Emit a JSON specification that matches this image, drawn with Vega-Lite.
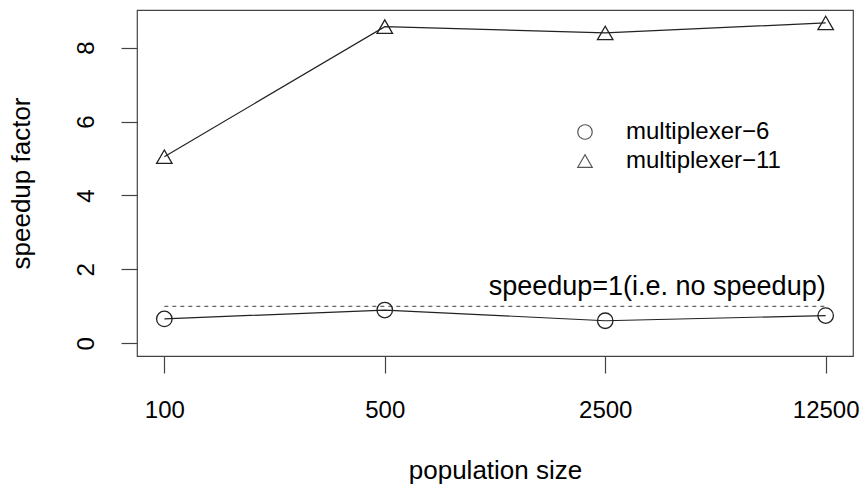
{
  "$schema": "https://vega.github.io/schema/vega-lite/v6.json",
  "width": 716,
  "height": 346,
  "autosize": {"type": "none"},
  "padding": {"left": 137, "top": 10, "right": 12, "bottom": 133},
  "background": "white",
  "config": {
    "view": {"stroke": "#444", "strokeWidth": 1.2},
    "font": "Liberation Sans",
    "axis": {
      "grid": false,
      "domain": false,
      "tickColor": "#444",
      "tickWidth": 1.2,
      "labelFont": "Liberation Sans",
      "labelColor": "black",
      "titleFont": "Liberation Sans",
      "titleColor": "black",
      "titleFontWeight": "normal"
    }
  },
  "datasets": {
    "series": [
      {"population": "100", "speedup": 0.66, "problem": "multiplexer−6"},
      {"population": "500", "speedup": 0.90, "problem": "multiplexer−6"},
      {"population": "2500", "speedup": 0.61, "problem": "multiplexer−6"},
      {"population": "12500", "speedup": 0.75, "problem": "multiplexer−6"},
      {"population": "100", "speedup": 5.05, "problem": "multiplexer−11"},
      {"population": "500", "speedup": 8.57, "problem": "multiplexer−11"},
      {"population": "2500", "speedup": 8.40, "problem": "multiplexer−11"},
      {"population": "12500", "speedup": 8.67, "problem": "multiplexer−11"}
    ],
    "baseline": [
      {"from": "100", "to": "12500", "speedup": 1, "label": "speedup=1(i.e. no speedup)"}
    ]
  },
  "layer": [
    {
      "data": {"name": "baseline"},
      "mark": {"type": "rule", "stroke": "#666", "strokeDash": [4, 4], "strokeWidth": 1.3},
      "encoding": {
        "x": {"field": "from", "type": "ordinal", "title": "population size",
              "scale": {"type": "point", "padding": 0.124, "domain": ["100", "500", "2500", "12500"]}},
        "x2": {"field": "to"},
        "y": {"field": "speedup", "type": "quantitative", "title": "speedup factor",
              "scale": {"domain": [-0.344, 9.02], "nice": false, "zero": false}}
      }
    },
    {
      "data": {"name": "baseline"},
      "mark": {"type": "text", "align": "right", "baseline": "alphabetic", "dy": -11, "fontSize": 27, "font": "Liberation Sans", "color": "black"},
      "encoding": {
        "x": {"field": "to", "type": "ordinal", "title": "population size"},
        "y": {"field": "speedup", "type": "quantitative", "title": "speedup factor"},
        "text": {"field": "label"}
      }
    },
    {
      "data": {"name": "series"},
      "mark": {"type": "line", "stroke": "#222", "strokeWidth": 1.2},
      "encoding": {
        "x": {"field": "population", "type": "ordinal", "title": "population size"},
        "y": {"field": "speedup", "type": "quantitative", "title": "speedup factor"},
        "detail": {"field": "problem"}
      }
    },
    {
      "data": {"name": "series"},
      "mark": {"type": "point", "filled": false, "stroke": "#222", "strokeWidth": 1.3, "opacity": 1, "size": 240},
      "encoding": {
        "x": {"field": "population", "type": "ordinal", "title": "population size",
              "axis": {"labelAngle": 0, "labelAlign": "center", "labelFontSize": 24, "tickSize": 17, "labelPadding": 44, "labelBaseline": "alphabetic",
                       "titleFontSize": 26, "titleY": 122, "titleBaseline": "alphabetic"}},
        "y": {"field": "speedup", "type": "quantitative", "title": "speedup factor",
              "axis": {"values": [0, 2, 4, 6, 8], "labelAngle": 270, "labelAlign": "center", "labelBaseline": "alphabetic",
                       "labelPadding": 28, "tickSize": 16, "labelFontSize": 24, "titleFontSize": 26,
                       "titleX": -108, "titleY": 173, "titleAngle": 270, "titleAlign": "center", "titleBaseline": "alphabetic"}},
        "shape": {"field": "problem", "type": "nominal",
                  "scale": {"domain": ["multiplexer−6", "multiplexer−11"], "range": ["circle", "triangle-up"]},
                  "legend": {"title": null, "orient": "none", "legendX": 436, "legendY": 110, "padding": 0,
                             "labelFontSize": 24, "labelFont": "Liberation Sans", "labelColor": "black",
                             "symbolSize": 210, "symbolStrokeColor": "#555", "symbolStrokeWidth": 1.2,
                             "rowPadding": 5, "labelOffset": 29}}
      }
    }
  ]
}
